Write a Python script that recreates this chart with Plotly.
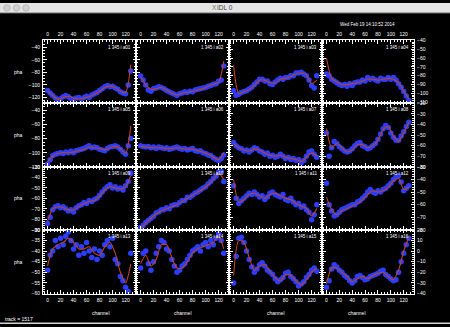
import plotly.graph_objects as go

# Channel grids: measured points every 4 channels, fitted curve every 8
channels_pts = list(range(0, 129, 4))
channels_fit = list(range(0, 129, 8))

# Measured pha per panel
pha_a01 = [-109, -113, -117, -121, -124, -122, -119, -117, -119, -122, -123, -121, -120, -123, -120, -118, -120, -116, -114, -112, -109, -106, -103, -101, -103, -102, -105, -107, -111, -113, -114, -100, -78]
pha_a02 = [-86, -92, -100, -108, -110, -106, -105, -103, -104, -106, -109, -111, -113, -115, -117, -114, -113, -111, -112, -110, -111, -108, -107, -106, -105, -104, -102, -101, -99, -98, -94, -92, -70]
pha_a03 = [-97, -102, -101, -99, -98, -97, -95, -93, -90, -87, -84, -84, -86, -86, -89, -90, -87, -85, -83, -84, -82, -82, -80, -80, -77, -77, -76, -78, -80, -85, -91, -94, -80]
pha_a04 = [-78, -80, -84, -86, -88, -90, -91, -90, -92, -89, -91, -88, -87, -87, -85, -86, -82, -84, -83, -85, -86, -83, -84, -84, -82, -84, -82, -85, -89, -93, -98, -103, -108]
pha_a05 = [-116, -110, -104, -102, -101, -100, -101, -99, -100, -98, -100, -97, -96, -95, -94, -92, -90, -93, -92, -93, -95, -96, -97, -94, -92, -91, -90, -92, -95, -99, -102, -90, -80]
pha_a06 = [-90, -91, -92, -91, -93, -92, -94, -92, -93, -94, -93, -95, -94, -93, -92, -94, -95, -94, -96, -95, -94, -97, -98, -97, -100, -101, -103, -104, -107, -109, -111, -108, -103]
pha_a07 = [-57, -60, -62, -63, -65, -64, -66, -64, -62, -63, -65, -66, -68, -67, -70, -69, -71, -70, -68, -70, -72, -71, -73, -72, -74, -73, -76, -74, -70, -66, -65, -68, -71]
pha_a08 = [-48, -70, -62, -56, -58, -61, -63, -65, -66, -65, -63, -60, -58, -57, -60, -61, -63, -62, -60, -58, -54, -49, -44, -41, -43, -48, -52, -55, -55, -51, -47, -42, -38]
pha_a09 = [-84, -78, -71, -68, -67, -69, -68, -70, -72, -71, -73, -69, -67, -66, -64, -65, -62, -63, -61, -60, -57, -54, -51, -49, -47, -50, -49, -51, -50, -52, -48, -44, -36]
pha_a10 = [-88, -86, -83, -81, -79, -77, -74, -73, -71, -71, -69, -70, -67, -66, -66, -64, -62, -62, -59, -59, -57, -55, -54, -52, -50, -49, -46, -44, -41, -39, -35, -34, -44]
pha_a11 = [-45, -55, -59, -57, -55, -53, -51, -52, -50, -52, -54, -53, -56, -54, -51, -50, -52, -53, -54, -52, -56, -57, -55, -58, -60, -59, -62, -61, -64, -66, -72, -68, -60]
pha_a12 = [-43, -60, -65, -69, -68, -66, -64, -63, -62, -61, -60, -60, -58, -57, -55, -53, -50, -48, -50, -51, -49, -50, -48, -47, -45, -43, -40, -38, -37, -42, -49, -47, -45]
pha_a13 = [-49, -42, -40, -35, -38, -34, -37, -33, -31, -35, -39, -37, -42, -38, -41, -36, -40, -43, -39, -44, -40, -42, -37, -35, -38, -34, -44, -46, -52, -54, -57, -59, -41]
pha_a14 = [-48, -41, -40, -46, -49, -45, -41, -38, -35, -36, -39, -40, -44, -47, -50, -49, -47, -46, -44, -42, -40, -39, -38, -40, -37, -36, -38, -35, -37, -34, -32, -35, -41]
pha_a15 = [-30, -5, 12, 13, 8, 0, -8, -15, -20, -17, -13, -11, -14, -18, -20, -22, -26, -29, -27, -25, -21, -20, -24, -26, -29, -33, -31, -29, -25, -22, -18, -16, -19]
pha_a16 = [-34, -28, -17, -13, -15, -18, -20, -23, -25, -28, -30, -28, -24, -23, -25, -27, -26, -24, -23, -22, -21, -19, -18, -22, -24, -26, -28, -27, -20, -10, -2, 6, 12]

# Fitted pha per panel
fit_a01 = [-110, -117, -123, -120, -118, -121, -122, -121, -119, -115, -110, -104, -102, -104, -110, -112, -68]
fit_a02 = [-87, -100, -107, -106, -104, -108, -113, -116, -113, -112, -110, -108, -106, -102, -99, -96, -62]
fit_a03 = [-68, -100, -98, -96, -91, -85, -85, -88, -88, -84, -83, -81, -78, -77, -79, -89, -85]
fit_a04 = [-60, -83, -87, -90, -90, -89, -88, -86, -84, -84, -85, -84, -83, -84, -88, -97, -106]
fit_a05 = [-113, -105, -101, -100, -100, -99, -97, -95, -92, -93, -94, -96, -93, -91, -94, -101, -62]
fit_a06 = [-91, -92, -93, -93, -93, -94, -94, -93, -94, -95, -95, -97, -99, -102, -106, -110, -100]
fit_a07 = [-58, -62, -64, -65, -63, -64, -67, -69, -70, -69, -71, -72, -73, -75, -71, -67, -70]
fit_a08 = [-44, -62, -58, -62, -66, -64, -59, -59, -62, -60, -55, -45, -42, -51, -56, -48, -38]
fit_a09 = [-82, -70, -68, -69, -71, -71, -68, -65, -63, -62, -58, -52, -49, -50, -51, -49, -38]
fit_a10 = [-89, -84, -79, -75, -72, -70, -68, -66, -63, -60, -57, -54, -51, -47, -42, -36, -42]
fit_a11 = [-40, -58, -56, -52, -51, -53, -55, -52, -51, -53, -55, -56, -59, -61, -63, -69, -63]
fit_a12 = [-54, -64, -68, -65, -63, -61, -59, -56, -52, -49, -50, -49, -46, -41, -39, -48, -46]
fit_a13 = [-47, -39, -37, -36, -34, -36, -39, -39, -38, -41, -42, -38, -36, -41, -50, -55, -46]
fit_a14 = [-46, -42, -47, -44, -37, -37, -43, -48, -48, -45, -41, -39, -38, -37, -36, -33, -39]
fit_a15 = [-23, 10, 8, -6, -18, -14, -13, -19, -25, -28, -22, -23, -28, -32, -27, -20, -16]
fit_a16 = [-31, -16, -16, -20, -24, -29, -26, -24, -26, -23, -21, -20, -24, -27, -18, 0, 13]

panel_names = ["a%02d" % i for i in range(1, 17)]
panel_pts = [pha_a01, pha_a02, pha_a03, pha_a04, pha_a05, pha_a06, pha_a07, pha_a08,
             pha_a09, pha_a10, pha_a11, pha_a12, pha_a13, pha_a14, pha_a15, pha_a16]
panel_fit = [fit_a01, fit_a02, fit_a03, fit_a04, fit_a05, fit_a06, fit_a07, fit_a08,
             fit_a09, fit_a10, fit_a11, fit_a12, fit_a13, fit_a14, fit_a15, fit_a16]

# y ranges (min, max, step): left pair of columns / right pair of columns per row
yr_left = [(-129, -29, 20), (-120, -30, 20), (-90, -30, 10), (-60, -30, 5)]
yr_right = [(-111, -40, 10), (-80, -20, 10), (-80, -30, 10), (-40, 20, 10)]
x_ticks = [0, 20, 40, 60, 80, 100, 120]

date_text = "Wed Feb 19 14:10:52 2014"
track_text = "track = 1517"

W, H = 450, 327
col_px = [(43, 136), (136, 229), (229, 322), (322, 414)]
row_px = [(38, 102), (102, 167), (167, 231), (231, 296)]
PTS = "#2b3dff"
FIT = "#bf4420"
FONT = "Liberation Sans"


def fx(px):
    return px / W


def fy(py):
    return 1 - py / H


fig = go.Figure()
layout = {}
annotations = []

for r in range(4):
    for c in range(4):
        k = r * 4 + c + 1
        xid = "x" if k == 1 else "x%d" % k
        yid = "y" if k == 1 else "y%d" % k
        xkey = "xaxis" if k == 1 else "xaxis%d" % k
        ykey = "yaxis" if k == 1 else "yaxis%d" % k

        fig.add_trace(go.Scatter(
            x=channels_pts, y=panel_pts[k - 1], mode="markers",
            marker=dict(color=PTS, size=5.5, line=dict(width=0)),
            xaxis=xid, yaxis=yid, hoverinfo="skip", showlegend=False))
        fig.add_trace(go.Scatter(
            x=channels_fit, y=panel_fit[k - 1], mode="lines",
            line=dict(color=FIT, width=1.1, shape="spline", smoothing=0.7),
            xaxis=xid, yaxis=yid, hoverinfo="skip", showlegend=False))

        x0, x1 = col_px[c]
        y0, y1 = row_px[r]
        layout[xkey] = dict(
            domain=[fx(x0), fx(x1)], anchor=yid, range=[-7, 136],
            tickvals=x_ticks, ticks="inside", ticklen=3.5, tickwidth=0.8,
            tickcolor="white",
            showline=True, linecolor="white", linewidth=1, mirror="ticks",
            showgrid=False, zeroline=False,
            showticklabels=(r in (0, 3)), side="top" if r == 0 else "bottom",
            tickfont=dict(family=FONT, size=5, color="white"), ticklabelstandoff=1,
            minor=dict(ticks="inside", ticklen=1.8, tickwidth=0.8, tickcolor="white",
                       dtick=5, tick0=0, showgrid=False),
        )
        ymin, ymax, step = yr_left[r] if c < 2 else yr_right[r]
        layout[ykey] = dict(
            domain=[fy(y1), fy(y0)], anchor=xid, range=[ymin, ymax],
            dtick=step, tick0=0, ticks="inside", ticklen=3.5, tickwidth=0.8,
            tickcolor="white",
            showline=True, linecolor="white", linewidth=1, mirror="ticks",
            showgrid=False, zeroline=False,
            showticklabels=(c in (0, 3)), side="left" if c < 3 else "right",
            tickfont=dict(family=FONT, size=5, color="white"), ticklabelstandoff=1,
            minor=dict(ticks="inside", ticklen=1.8, tickwidth=0.8, tickcolor="white",
                       dtick=step / 4 if step == 20 else step / 5, tick0=0,
                       showgrid=False),
        )
        # panel tag in the upper right corner
        annotations.append(dict(
            x=fx(x1 - 3), y=fy(y0 + 7), xref="paper", yref="paper",
            text="1 345 i " + panel_names[k - 1], showarrow=False,
            xanchor="right", yanchor="middle",
            font=dict(family=FONT, size=4.5, color="white")))

# axis titles
for r in range(4):
    y0, y1 = row_px[r]
    annotations.append(dict(x=fx(12), y=fy((y0 + y1) / 2), xref="paper", yref="paper",
                            text="pha", showarrow=False, yanchor="middle",
                            font=dict(family=FONT, size=5, color="white")))
for c in range(4):
    x0, x1 = col_px[c]
    annotations.append(dict(x=fx((x0 + x1) / 2), y=fy(316), xref="paper", yref="paper",
                            text="channel", showarrow=False, yanchor="middle",
                            font=dict(family=FONT, size=5, color="white")))

annotations.append(dict(x=fx(397), y=fy(22), xref="paper", yref="paper", text=date_text,
                        showarrow=False, xanchor="right", yanchor="middle",
                        font=dict(family=FONT, size=4.5, color="white")))
annotations.append(dict(x=fx(3), y=fy(322), xref="paper", yref="paper", text=track_text,
                        showarrow=False, xanchor="left", yanchor="middle",
                        font=dict(family=FONT, size=5, color="white")))

# window title bar
annotations.append(dict(x=fx(225), y=fy(5), xref="paper", yref="paper", text="IDL 0",
                        showarrow=False, xanchor="center", yanchor="middle",
                        font=dict(family=FONT, size=6.5, color="#444444")))
annotations.append(dict(x=fx(214), y=fy(5), xref="paper", yref="paper", text="X",
                        showarrow=False, xanchor="center", yanchor="middle",
                        font=dict(family=FONT, size=6.5, color="#777777")))

shapes = [
    dict(type="rect", xref="paper", yref="paper", x0=0, x1=1, y0=fy(10), y1=1,
         fillcolor="#e4e4e4", line=dict(width=0), layer="below"),
    dict(type="line", xref="paper", yref="paper", x0=0, x1=1, y0=fy(10), y1=fy(10),
         line=dict(color="#a8a8a8", width=1)),
    dict(type="rect", xref="paper", yref="paper", x0=0, x1=1, y0=0, y1=fy(325.5),
         fillcolor="#d4d4d4", line=dict(width=0)),
]
for cx in (7, 16.5, 26):
    shapes.append(dict(type="circle", xref="paper", yref="paper",
                       x0=fx(cx - 3.3), x1=fx(cx + 3.3), y0=fy(5 + 3.3), y1=fy(5 - 3.3),
                       fillcolor="#d0d0d0", line=dict(color="#a6a6a6", width=0.6)))

fig.update_layout(
    width=W, height=H, margin=dict(l=0, r=0, t=0, b=0),
    paper_bgcolor="black", plot_bgcolor="black",
    showlegend=False, annotations=annotations, shapes=shapes, **layout)

fig.write_html("out.html", config={"displayModeBar": False})
